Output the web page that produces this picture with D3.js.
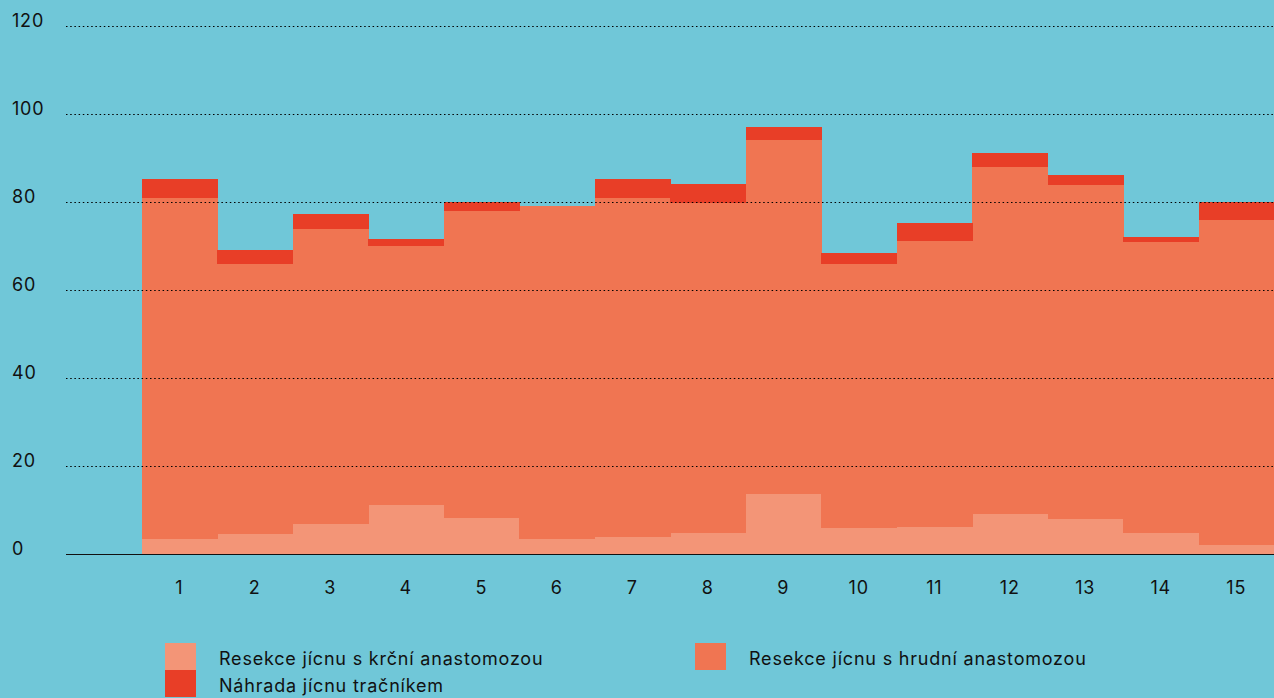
<!DOCTYPE html>
<html>
<head>
<meta charset="utf-8">
<script src="https://cdn.jsdelivr.net/npm/d3@7"></script>
<style>
  html, body { margin: 0; padding: 0; background: #70c7d8; }
  svg { display: block; font-family: Inter, "Noto Sans", sans-serif; }
</style>
</head>
<body>
<svg id="chart" width="1274" height="698"></svg>
<script>
  // Data
  var categories = ['', '1', '2', '3', '4', '5', '6', '7', '8', '9', '10', '11', '12', '13', '14', '15'];
  var krcni   = [null, 3.5, 4.6, 6.9, 11.2, 8.2, 3.3, 3.9, 4.8, 13.7, 6.0, 6.2, 9.2, 8.0, 4.8, 2.1];
  var hrudni  = [null, 77.5, 61.4, 67.0, 58.9, 69.8, 75.9, 77.1, 75.0, 80.4, 60.0, 65.0, 78.8, 75.9, 66.2, 73.9];
  var tracnik = [null, 4.3, 3.2, 3.4, 1.6, 2.1, 0.0, 4.3, 4.4, 3.0, 2.5, 4.1, 3.2, 2.3, 1.1, 4.1];
  var seriesNames = ['Resekce jícnu s krční anastomozou', 'Resekce jícnu s hrudní anastomozou', 'Náhrada jícnu tračníkem'];
  var yTicks = [0, 20, 40, 60, 80, 100, 120];

  var colors = {};
  colors[seriesNames[0]] = '#f39577';
  colors[seriesNames[1]] = '#f07552';
  colors[seriesNames[2]] = '#e83e27';

  var svg = d3.select('#chart'),
    plotLeft = 66,
    plotRight = 1274,
    plotTop = 26,
    plotBottom = 554;

  var rows = categories.map(function(c, i) {
    var r = { cat: c };
    r[seriesNames[0]] = krcni[i] || 0;
    r[seriesNames[1]] = hrudni[i] || 0;
    r[seriesNames[2]] = tracnik[i] || 0;
    return r;
  });

  var x = d3.scaleBand().domain(categories).range([plotLeft, plotRight]).padding(0);
  var y = d3.scaleLinear().domain([0, 120]).range([plotBottom, plotTop]);

  // stacked bars
  var stack = d3.stack().keys(seriesNames);
  var layers = stack(rows);

  svg.append('g')
    .selectAll('g')
    .data(layers)
    .enter().append('g')
    .attr('fill', function(d) { return colors[d.key]; })
    .selectAll('rect')
    .data(function(d) { return d.filter(function(p) { return p.data.cat !== ''; }); })
    .enter().append('rect')
    .attr('x', function(d) { return x(d.data.cat); })
    .attr('width', x.bandwidth() + 0.5)
    .attr('y', function(d) { return y(d[1]); })
    .attr('height', function(d) { return y(d[0]) - y(d[1]); })
    .attr('shape-rendering', 'crispEdges');

  // grid (drawn over the bars, as in the original)
  svg.append('g')
    .selectAll('line')
    .data(yTicks.filter(function(d) { return d > 0; }))
    .enter().append('line')
    .attr('x1', plotLeft).attr('x2', plotRight)
    .attr('y1', function(d) { return y(d) + 0.5; })
    .attr('y2', function(d) { return y(d) + 0.5; })
    .attr('stroke', '#000')
    .attr('stroke-width', 1.2)
    .attr('stroke-dasharray', '1.5,2.7');

  // y labels
  svg.append('g')
    .selectAll('text')
    .data(yTicks)
    .enter().append('text')
    .attr('x', 12)
    .attr('y', function(d) { return y(d) - 6; })
    .attr('dominant-baseline', 'central')
    .attr('font-size', 18)
    .attr('letter-spacing', 0.8)
    .attr('fill', '#111')
    .text(function(d) { return d; });

  // baseline
  svg.append('line')
    .attr('x1', plotLeft).attr('x2', plotRight)
    .attr('y1', plotBottom + 0.5).attr('y2', plotBottom + 0.5)
    .attr('stroke', '#111')
    .attr('stroke-width', 1.2);

  // x labels
  svg.append('g')
    .selectAll('text')
    .data(categories.filter(function(c) { return c !== ''; }))
    .enter().append('text')
    .attr('x', function(d) { return x(d) + x.bandwidth() / 2; })
    .attr('y', 587)
    .attr('text-anchor', 'middle')
    .attr('dominant-baseline', 'central')
    .attr('font-size', 18)
    .attr('letter-spacing', 0.8)
    .attr('fill', '#111')
    .text(function(d) { return d; });

  // legend
  var legendItems = [
    { name: seriesNames[0], x: 165, y: 643 },
    { name: seriesNames[2], x: 165, y: 670 },
    { name: seriesNames[1], x: 695, y: 643 }
  ];
  var legend = svg.append('g')
    .selectAll('g')
    .data(legendItems)
    .enter().append('g')
    .attr('transform', function(d) { return 'translate(' + d.x + ',' + d.y + ')'; });
  legend.append('rect')
    .attr('width', 31)
    .attr('height', 27)
    .attr('fill', function(d) { return colors[d.name]; });
  legend.append('text')
    .attr('x', 54)
    .attr('y', 15)
    .attr('dominant-baseline', 'central')
    .attr('font-size', 18)
    .attr('letter-spacing', 0.8)
    .attr('fill', '#111')
    .text(function(d) { return d.name; });
</script>
</body>
</html>
